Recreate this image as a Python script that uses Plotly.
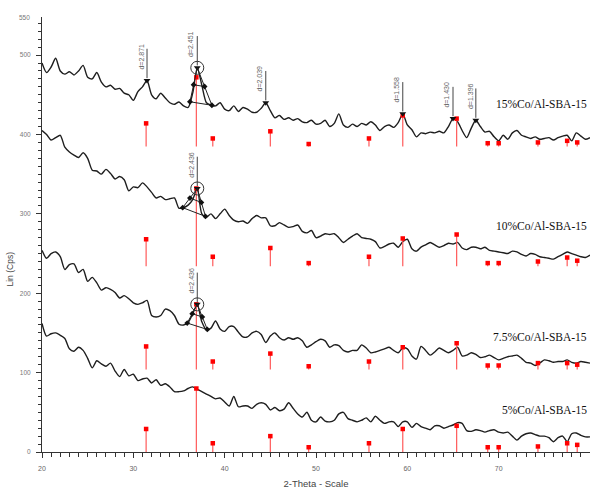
import numpy as np
import plotly.graph_objects as go

# ---------------- data ----------------
two_theta = np.arange(20, 80.01, 0.5)

s15 = [490, 478, 485, 496, 480, 476, 479, 475, 480, 487, 472, 470, 478, 466, 460, 462, 457, 458, 452, 450,
       443, 454, 460, 468, 450, 445, 452, 446, 440, 438, 441, 436, 434, 452, 484, 462, 440, 437, 436, 440,
       432, 430, 436, 429, 434, 432, 428, 428, 433, 440, 430, 421, 424, 419, 421, 418, 420, 416, 415, 418,
       413, 414, 418, 410, 414, 426, 412, 409, 413, 410, 414, 412, 416, 412, 405, 410, 412, 409, 415, 426,
       412, 406, 397, 402, 401, 403, 402, 404, 402, 410, 420, 416, 405, 396, 408, 418, 410, 403, 404, 397,
       392, 399, 394, 402, 405, 399, 397, 395, 397, 394, 395, 396, 393, 396, 398, 399, 392, 402, 398, 394, 396]

s10 = [405, 400, 393, 396, 399, 384, 378, 374, 371, 377, 370, 355, 354, 350, 356, 351, 344, 347, 343, 329,
       334, 333, 339, 334, 327, 320, 322, 318, 319, 320, 307, 308, 311, 318, 332, 300, 296, 300, 294, 300,
       306, 298, 292, 290, 291, 288, 294, 298, 295, 295, 285, 285, 289, 286, 283, 284, 286, 278, 276, 279,
       270, 272, 275, 274, 275, 270, 264, 268, 272, 275, 270, 269, 268, 265, 257, 259, 262, 263, 258, 265,
       268, 256, 253, 258, 261, 264, 261, 258, 260, 263, 262, 264, 257, 255, 258, 258, 256, 258, 254, 253,
       252, 251, 250, 253, 252, 249, 247, 250, 249, 246, 245, 244, 243, 246, 249, 252, 250, 248, 246, 245, 248]

s75 = [254, 244, 250, 252, 246, 230, 236, 237, 226, 230, 215, 220, 213, 204, 207, 205, 201, 194, 197, 193,
       188, 186, 188, 191, 172, 170, 172, 180, 178, 172, 161, 160, 163, 174, 186, 164, 154, 156, 165, 155,
       152, 158, 158, 151, 145, 145, 150, 152, 148, 138, 146, 150, 144, 141, 144, 142, 144, 140, 132, 135,
       139, 142, 140, 132, 135, 134, 128, 126, 128, 128, 135, 131, 125, 126, 128, 130, 132, 128, 125, 131,
       130, 121, 117, 133, 128, 122, 126, 131, 128, 125, 128, 132, 121, 122, 125, 123, 119, 120, 122, 119,
       116, 118, 120, 121, 122, 118, 113, 112, 109, 112, 116, 115, 113, 114, 114, 116, 113, 112, 114, 113, 112]

s5 = [162, 146, 149, 150, 147, 143, 130, 127, 132, 128, 118, 106, 115, 111, 108, 112, 102, 95, 104, 96,
      98, 90, 92, 93, 87, 91, 84, 86, 82, 76, 76, 77, 80, 82, 79, 76, 73, 70, 67, 68,
      63, 58, 70, 57, 58, 58, 55, 60, 62, 60, 53, 56, 52, 54, 62, 55, 48, 44, 50, 40,
      38, 44, 39, 38, 40, 48, 50, 42, 40, 38, 40, 43, 38, 45, 40, 36, 38, 38, 32, 38,
      38, 31, 36, 32, 30, 28, 33, 33, 30, 32, 34, 37, 36, 27, 26, 28, 27, 25, 27, 28,
      25, 24, 25, 20, 15, 20, 23, 24, 22, 20, 20, 18, 13, 18, 20, 13, 23, 24, 21, 19, 19]

sample_names = ["15%Co/Al-SBA-15", "10%Co/Al-SBA-15", "7.5%Co/Al-SBA-15", "5%Co/Al-SBA-15"]

# reference stick pattern (Co3O4)
stick_pos = [31.4, 36.9, 38.7, 45.0, 49.2, 55.8, 59.5, 65.4, 68.8, 70.0, 74.3, 77.5, 78.6]
stick_base = [385, 234, 104, 0]
stick_h15 = [29, 87, 10, 19, 3, 10, 39, 35, 4, 4, 5, 7, 5]
stick_h10 = [34, 98, 12, 23, 4, 12, 35, 40, 4, 4, 6, 11, 7]
stick_h75 = [29, 82, 10, 20, 4, 10, 28, 33, 5, 5, 8, 8, 6]
stick_h5 = [29, 80, 11, 20, 6, 11, 29, 33, 6, 6, 7, 11, 9]

# d-spacing labels
d_pos15 = [31.5, 37.0, 44.5, 59.5, 65.0, 67.5]
d_lab15 = ["d=2.871", "d=2.451", "d=2.039", "d=1.558", "d=1.430", "d=1.396"]
d_pos10 = [37.0]
d_lab10 = ["d=2.436"]
d_pos75 = [37.0]
d_lab75 = ["d=2.436"]

# FWHM construction of the main peak (peak, left base, right base) for 15 %, 10 %, 7.5 %
fw_peak = [37.0, 37.0, 37.0]
fw_left = [36.2, 35.4, 35.9]
fw_right = [38.6, 37.9, 38.1]

y_ticks = [0, 100, 200, 300, 400, 500]

# ---------------- figure ----------------
series = [s15, s10, s75, s5]
heights = [stick_h15, stick_h10, stick_h75, stick_h5]
fig = go.Figure()

for s in series:
    fig.add_trace(go.Scatter(x=two_theta, y=s, mode="lines",
                             line=dict(color="#1e1e1e", width=1.4, shape="spline", smoothing=0.7),
                             hoverinfo="skip"))

for base, hs in zip(stick_base, heights):
    xs, ys = [], []
    for p, h in zip(stick_pos, hs):
        xs += [p, p, None]
        ys += [base, base + h, None]
    fig.add_trace(go.Scatter(x=xs, y=ys, mode="lines",
                             line=dict(color="#ff5a5a", width=1.2), hoverinfo="skip"))
    fig.add_trace(go.Scatter(x=stick_pos, y=[base + h for h in hs], mode="markers",
                             marker=dict(symbol="square", size=4.5, color="#ff0000"),
                             hoverinfo="skip"))


def yat(s, x):
    return float(np.interp(x, two_theta, s))


annotations = []
for s, dps, dls in [(s15, d_pos15, d_lab15), (s10, d_pos10, d_lab10), (s75, d_pos75, d_lab75)]:
    lx, ly = [], []
    for p, lab in zip(dps, dls):
        yp = yat(s, p)
        lx += [p, p, None]
        ly += [yp + 3, yp + 40, None]
        annotations.append(dict(x=p, y=yp, xref="x", yref="y", text=lab, showarrow=False,
                                textangle=-90, xanchor="right", yanchor="bottom",
                                xshift=-0.5, yshift=9,
                                font=dict(family="Liberation Sans", size=7, color="#666666")))
    fig.add_trace(go.Scatter(x=lx, y=ly, mode="lines", line=dict(color="#444444", width=1),
                             hoverinfo="skip"))
    fig.add_trace(go.Scatter(x=dps, y=[yat(s, p) for p in dps], mode="markers",
                             marker=dict(symbol="triangle-down", size=6, color="#111111"),
                             hoverinfo="skip"))

for s, pk, lf, rt in zip(series[:3], fw_peak, fw_left, fw_right):
    yp, yl, yr = yat(s, pk), yat(s, lf), yat(s, rt)
    ml = ((pk + lf) / 2, (yp + yl) / 2)
    mr = ((pk + rt) / 2, (yp + yr) / 2)
    fig.add_trace(go.Scatter(x=[lf, pk, rt, lf, None, ml[0], mr[0]],
                             y=[yl, yp, yr, yl, None, ml[1], mr[1]], mode="lines",
                             line=dict(color="#222222", width=1), hoverinfo="skip"))
    fig.add_trace(go.Scatter(x=[lf, rt, ml[0], mr[0]], y=[yl, yr, ml[1], mr[1]], mode="markers",
                             marker=dict(symbol="diamond", size=4.5, color="#111111"),
                             hoverinfo="skip"))
    fig.add_trace(go.Scatter(x=[pk], y=[yp], mode="markers",
                             marker=dict(symbol="circle-open", size=13, color="#333333",
                                         line=dict(width=1)), hoverinfo="skip"))

label_y = [439, 285, 145, 53]
for name, yy in zip(sample_names, label_y):
    annotations.append(dict(x=1, y=yy, xref="paper", yref="y", text=name, showarrow=False,
                            xanchor="right", yanchor="middle", xshift=-1,
                            font=dict(family="Liberation Serif", size=11.5, color="#111111")))

annotations.append(dict(x=-0.058, y=0.42, xref="paper", yref="paper", text="Lin (Cps)",
                        showarrow=False, textangle=-90, xanchor="center", yanchor="middle",
                        font=dict(family="Liberation Sans", size=8.5, color="#444444")))
annotations.append(dict(x=0, y=548, xref="paper", yref="y", text="550", showarrow=False,
                        xanchor="right", yanchor="middle", xshift=-10,
                        font=dict(family="Liberation Sans", size=6.5, color="#777777")))

fig.update_layout(
    width=590, height=491,
    margin=dict(l=42, r=0, t=17, b=39),
    paper_bgcolor="white", plot_bgcolor="white",
    showlegend=False,
    annotations=annotations,
    xaxis=dict(range=[20, 80], showgrid=False, zeroline=False, showline=True,
               linecolor="#333333", linewidth=1, ticks="outside", ticklen=5, tickcolor="#333333",
               dtick=10, tick0=20, ticklabelstandoff=5,
               tickfont=dict(family="Liberation Sans", size=7, color="#666666"),
               minor=dict(dtick=1, ticks="outside", ticklen=4, tickcolor="#333333"),
               title=dict(text="2-Theta - Scale", standoff=8,
                          font=dict(family="Liberation Sans", size=9.5, color="#444444"))),
    yaxis=dict(range=[0, 548], showgrid=False, zeroline=False, showline=True,
               linecolor="#333333", linewidth=1, ticks="outside", ticklen=5, tickcolor="#333333",
               tickmode="array", tickvals=y_ticks, ticktext=[str(v) for v in y_ticks],
               ticklabelstandoff=4,
               tickfont=dict(family="Liberation Sans", size=6.5, color="#777777"),
               minor=dict(dtick=10, tick0=0, ticks="outside", ticklen=3, tickcolor="#333333")),
)

fig.write_html("out.html")
